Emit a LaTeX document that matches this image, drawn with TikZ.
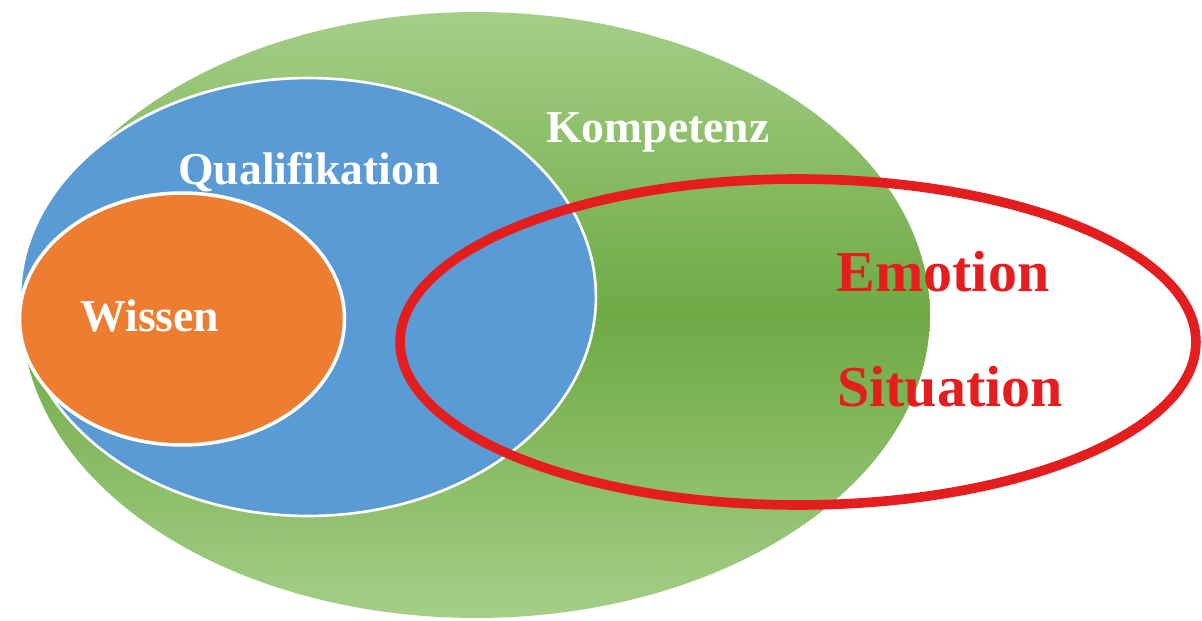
\documentclass[tikz,border=0pt]{standalone}
\usepackage{fontspec}
\setmainfont{Liberation Serif}
\usetikzlibrary{shapes.geometric}
\definecolor{kgreen}{RGB}{110,170,68}
\definecolor{kgreenlight}{RGB}{165,206,135}
\definecolor{qblue}{RGB}{91,155,213}
\definecolor{worange}{RGB}{237,125,49}
\definecolor{ered}{RGB}{228,30,30}
\begin{document}
\begin{tikzpicture}[x=0.02cm, y=-0.02cm,
  lbl/.style={text=white, font=\bfseries\fontsize{26}{30}\selectfont, inner sep=0pt},
  redlbl/.style={text=ered, font=\bfseries\fontsize{33}{36}\selectfont, inner sep=0pt}]
\useasboundingbox (0,0) rectangle (1202,621);
\node[shape=ellipse, inner sep=0pt, minimum width=18.16cm, minimum height=12.12cm, top color=kgreenlight, bottom color=kgreenlight, middle color=kgreen] (K) at (476,315) {};
\node[shape=ellipse, inner sep=0pt, minimum width=11.52cm, minimum height=8.76cm, fill=qblue, draw=white, line width=1.5pt] (Q) at (308,297) {};
\node[shape=ellipse, inner sep=0pt, minimum width=6.5cm, minimum height=5.04cm, fill=worange, draw=white, line width=2pt] (W) at (182,319) {};
\node[shape=ellipse, inner sep=0pt, minimum width=15.92cm, minimum height=6.52cm, draw=ered, line width=5.5pt] (E) at (798,342) {};
\node[lbl] (kompetenz) at (658,132) {Kompetenz};
\node[lbl] (qualifikation) at (309,172) {Qualifikation};
\node[lbl] (wissen) at (150,316) {Wissen};
\node[redlbl] (emotion) at (943,272) {Emotion};
\node[redlbl] (situation) at (950,387) {Situation};
\end{tikzpicture}
\end{document}
